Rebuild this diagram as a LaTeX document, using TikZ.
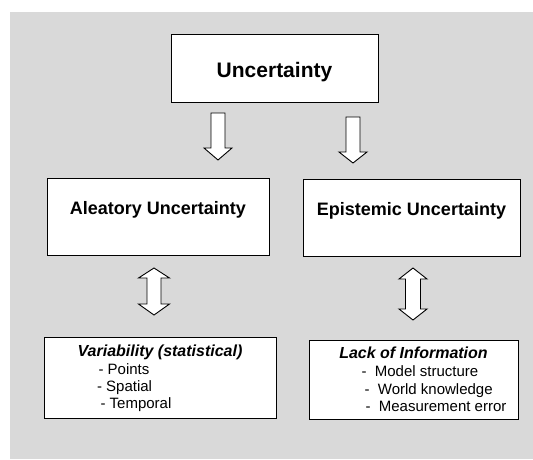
\documentclass[tikz,border=0pt]{standalone}
\definecolor{bggray}{RGB}{217, 217, 217}
\usepackage{fontspec}
\setmainfont{Liberation Sans}
\usepackage{tikz}
\usetikzlibrary{positioning, calc}

\tikzset{
  box/.style={draw=black, fill=white, line width=1pt, inner sep=0pt},
  blockarrow/.style={draw=black, fill=white, line width=0.9pt, line join=miter},
  toptext/.style={font=\fontsize{21}{25}\selectfont\bfseries, anchor=base},
  midtext/.style={font=\fontsize{18}{22}\selectfont\bfseries, anchor=base},
  lowtitle/.style={font=\fontsize{16}{19}\selectfont\bfseries\itshape, anchor=base},
  item/.style={font=\fontsize{15}{18}\selectfont, anchor=base west}
}

\begin{document}
\begin{tikzpicture}[x=1pt, y=-1pt]
  \useasboundingbox (0, 0) rectangle (533, 459);
  \fill[bggray] (10, 12) rectangle (533, 459);

  % Boxes
  \node[box, minimum width=207, minimum height=68] (unc) at (274.5, 68) {};
  \node[box, minimum width=222, minimum height=77] (alea) at (158, 216.5) {};
  \node[box, minimum width=217, minimum height=77] (epis) at (411.5, 217.5) {};
  \node[box, minimum width=232, minimum height=81] (vari) at (160, 377.5) {};
  \node[box, minimum width=209, minimum height=79] (lack) at (413.5, 379.5) {};

  % Titles
  \node[toptext] (unctext) at (274.5, 77) {Uncertainty};
  \node[midtext] (aleatext) at (158, 214) {Aleatory Uncertainty};
  \node[midtext] (epistext) at (411.5, 215) {Epistemic Uncertainty};
  \node[lowtitle] (varitext) at (160, 356.5) {Variability (statistical)};
  \node[lowtitle] (lacktext) at (413.5, 358.5) {Lack of Information};

  % Items
  \node[item] (points) at (95, 374.7) {- Points};
  \node[item] (spatial) at (93.5, 391.7) {- Spatial};
  \node[item] (temporal) at (97, 408.4) {- Temporal};
  \node[item] (model) at (358, 376.7) {-\ \ Model structure};
  \node[item] (world) at (361, 394) {-\ \ World knowledge};
  \node[item] (meas) at (362, 411.4) {-\ \ Measurement error};

  % Down arrows
  \coordinate (dleft) at (218, 113);
  \draw[blockarrow] (dleft) ++(-7, 0) -- ++(0, 35) -- ++(-7, 0) -- ++(14, 12)
    -- ++(14, -12) -- ++(-7, 0) -- ++(0, -35) -- cycle;
  \coordinate (dright) at (353, 117);
  \draw[blockarrow] (dright) ++(-7, 0) -- ++(0, 35) -- ++(-7, 0) -- ++(14, 11)
    -- ++(14, -11) -- ++(-7, 0) -- ++(0, -35) -- cycle;

  % Double arrows
  \coordinate (uleft) at (154, 268);
  \draw[blockarrow] (uleft) -- ++(15.5, 10) -- ++(-8.5, 0) -- ++(0, 26) -- ++(8.5, 0)
    -- ++(-15.5, 11) -- ++(-15.5, -11) -- ++(8.5, 0) -- ++(0, -26) -- ++(-8.5, 0) -- cycle;
  \coordinate (uright) at (413, 268);
  \draw[blockarrow] (uright) -- ++(14, 11) -- ++(-6.5, 0) -- ++(0, 30) -- ++(6.5, 0)
    -- ++(-14, 11) -- ++(-14, -11) -- ++(6.5, 0) -- ++(0, -30) -- ++(-6.5, 0) -- cycle;
\end{tikzpicture}
\end{document}
